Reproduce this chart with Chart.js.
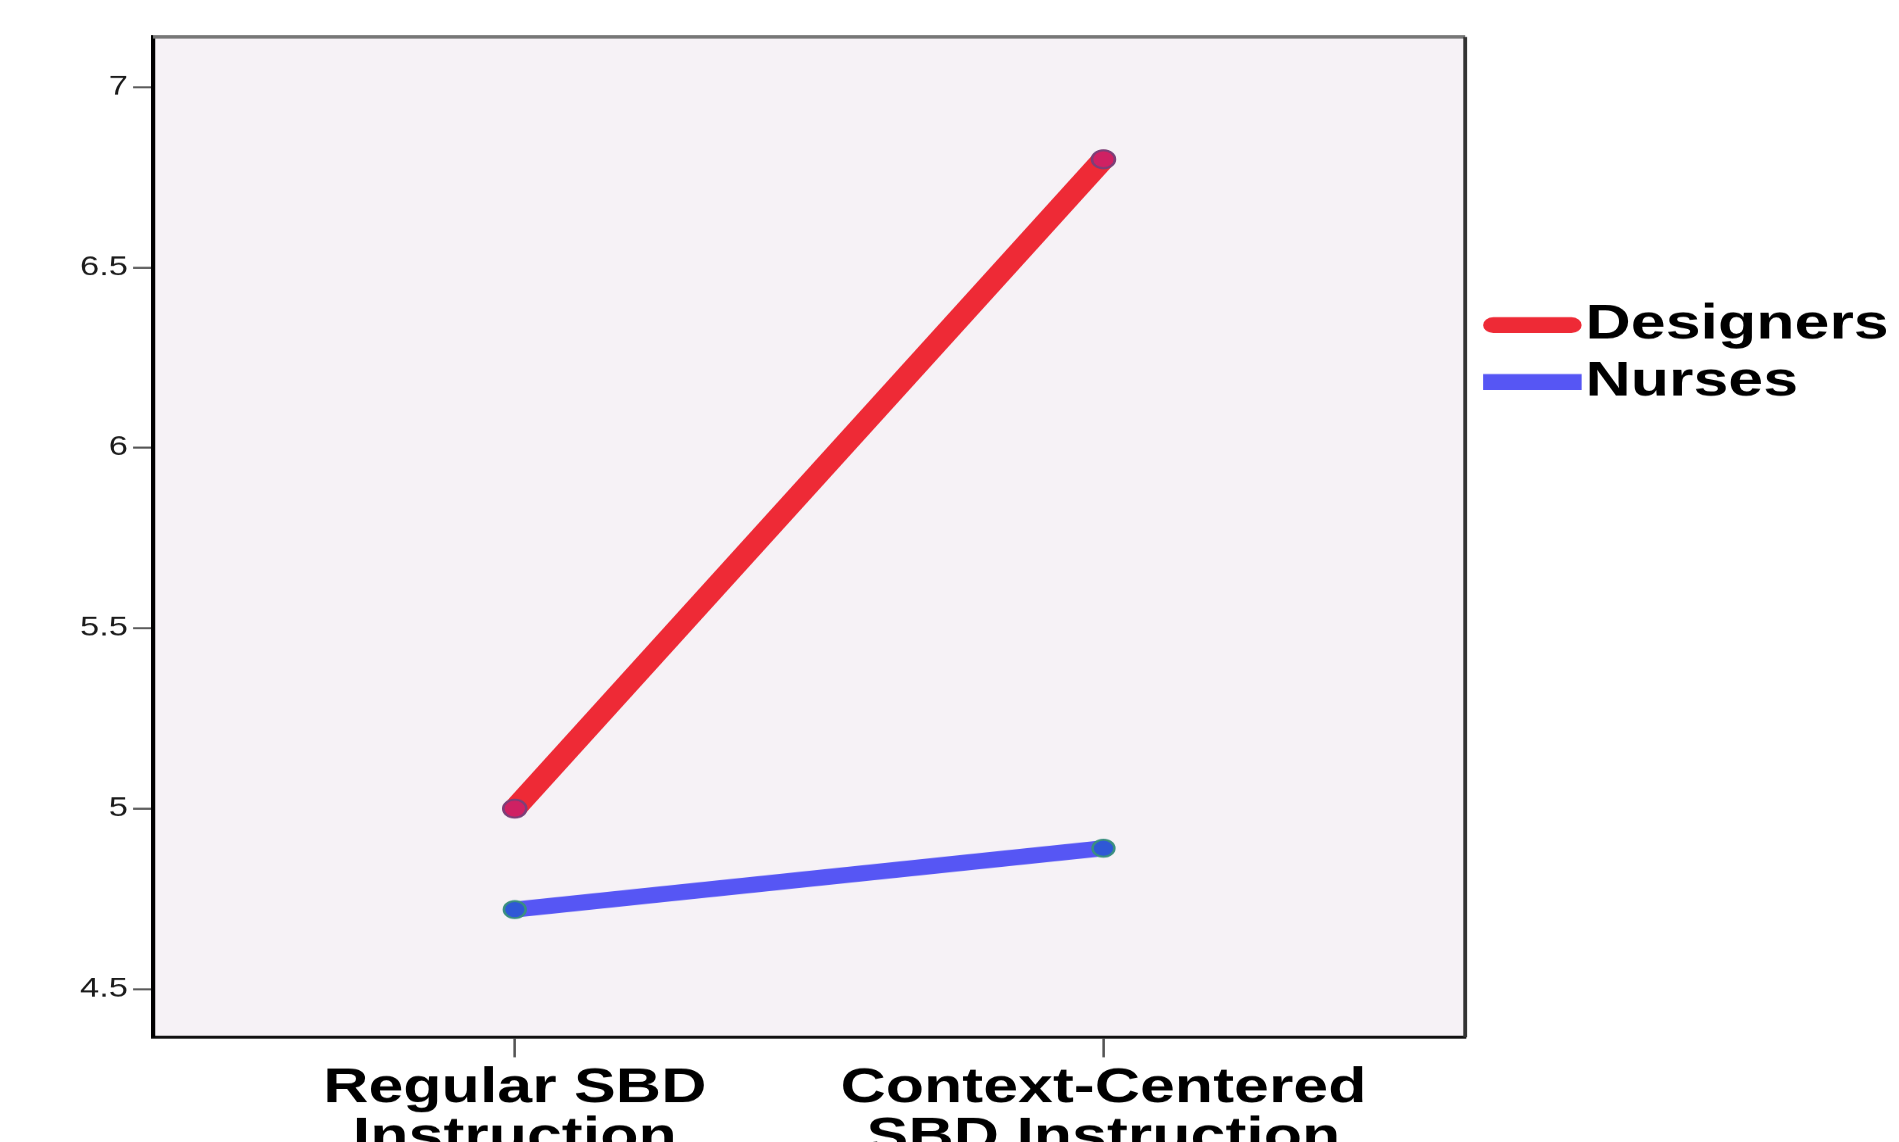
<!DOCTYPE html>
<html>
<head>
<meta charset="utf-8">
<title>SBD instruction by group</title>
<script src="https://cdn.jsdelivr.net/npm/chart.js@4.4.1/dist/chart.umd.min.js"></script>
<style>
  html, body { margin: 0; padding: 0; background: #fff; overflow: hidden; }
</style>
</head>
<body>
<canvas id="chart" width="1484" height="1142" style="display: block; width: 1899px; height: 1142px;"></canvas>
<script>
const categories = [['Regular SBD', 'Instruction'], ['Context-Centered', 'SBD Instruction']];
const designers = [5.0, 6.8];
const nurses = [4.72, 4.89];
const yTicks = [4.5, 5, 5.5, 6, 6.5, 7];

// the source image is stretched sideways, so the chart is laid out narrow
// and the backing store is widened to the full page width
const stretch = 1899 / 1484;
const fontFamily = '"Liberation Sans", Arial, sans-serif';

const toPoints = values => values.map((y, i) => ({ x: i, y }));

const plotFrame = {
  id: 'plotFrame',
  beforeDraw: chart => {
    const { ctx, chartArea: a } = chart;
    ctx.save();
    ctx.fillStyle = '#f6f2f6';
    ctx.fillRect(a.left, a.top, a.right - a.left, a.bottom - a.top);
    ctx.restore();
  },
  beforeDatasetsDraw: chart => {
    const { ctx, chartArea: a } = chart;
    ctx.save();
    ctx.lineWidth = 3.5;
    ctx.strokeStyle = '#777';
    ctx.beginPath();
    ctx.moveTo(a.left, a.top);
    ctx.lineTo(a.right, a.top);
    ctx.stroke();
    ctx.lineWidth = 3;
    ctx.strokeStyle = '#333';
    ctx.beginPath();
    ctx.moveTo(a.right, a.top);
    ctx.lineTo(a.right, a.bottom);
    ctx.stroke();
    ctx.restore();
  }
};

const sideLegend = {
  id: 'sideLegend',
  afterDraw: chart => {
    const { ctx } = chart;
    const left = 1159;
    const right = 1236;
    const rows = [325, 382];

    ctx.save();
    chart.data.datasets.forEach((dataset, i) => {
      const y = rows[i];
      const round = dataset.borderCapStyle === 'round';
      const inset = round ? 8 : 0;
      ctx.strokeStyle = dataset.borderColor;
      ctx.lineWidth = 16;
      ctx.lineCap = dataset.borderCapStyle;
      ctx.beginPath();
      ctx.moveTo(left + inset, y);
      ctx.lineTo(right - inset, y);
      ctx.stroke();

      ctx.fillStyle = '#000';
      ctx.font = `bold 49px ${fontFamily}`;
      ctx.textBaseline = 'middle';
      ctx.textAlign = 'left';
      ctx.fillText(dataset.label, right + 3, y);
    });
    ctx.restore();
  }
};

const chartContext = document.getElementById('chart').getContext('2d');

const plot = new Chart(chartContext, {
  type: 'line',
  data: {
    datasets: [
      {
        label: 'Designers',
        data: toPoints(designers),
        borderColor: '#ee2a36',
        borderWidth: 19,
        borderCapStyle: 'round',
        pointRadius: 9,
        pointBackgroundColor: '#cf2163',
        pointBorderColor: '#7b3f78',
        pointBorderWidth: 2
      },
      {
        label: 'Nurses',
        data: toPoints(nurses),
        borderColor: '#5656f4',
        borderWidth: 16,
        borderCapStyle: 'butt',
        pointRadius: 8.5,
        pointBackgroundColor: '#2f58d6',
        pointBorderColor: '#3a8f80',
        pointBorderWidth: 2
      }
    ]
  },
  options: {
    responsive: false,
    animation: false,
    devicePixelRatio: stretch,
    layout: {
      padding: { top: 37, right: 339, left: 0, bottom: 0 }
    },
    plugins: {
      legend: { display: false },
      tooltip: { enabled: false }
    },
    scales: {
      x: {
        type: 'linear',
        min: -0.6145,
        max: 1.6145,
        afterBuildTicks: scale => {
          scale.ticks = categories.map((c, i) => ({ value: i }));
        },
        afterFit: scale => {
          scale.height = 105;
        },
        ticks: {
          callback: (value, index) => categories[index],
          padding: 7,
          maxRotation: 0,
          autoSkip: false,
          color: '#000',
          font: { family: fontFamily, size: 49, weight: 'bold', lineHeight: 1.0 }
        },
        grid: {
          drawOnChartArea: false,
          tickLength: 20,
          tickColor: '#555',
          tickWidth: 2
        },
        border: { color: '#111', width: 3 }
      },
      y: {
        min: 4.366,
        max: 7.139,
        afterBuildTicks: scale => {
          scale.ticks = yTicks.map(value => ({ value }));
        },
        afterFit: scale => {
          scale.width = 119.6;
        },
        ticks: {
          callback: value => String(value),
          padding: 4,
          color: '#1a1a1a',
          font: { family: fontFamily, size: 27 }
        },
        grid: {
          drawOnChartArea: false,
          tickLength: 15.6,
          tickColor: '#555',
          tickWidth: 2
        },
        border: { color: '#000', width: 3.3 }
      }
    }
  },
  plugins: [plotFrame, sideLegend]
});
</script>
</body>
</html>
